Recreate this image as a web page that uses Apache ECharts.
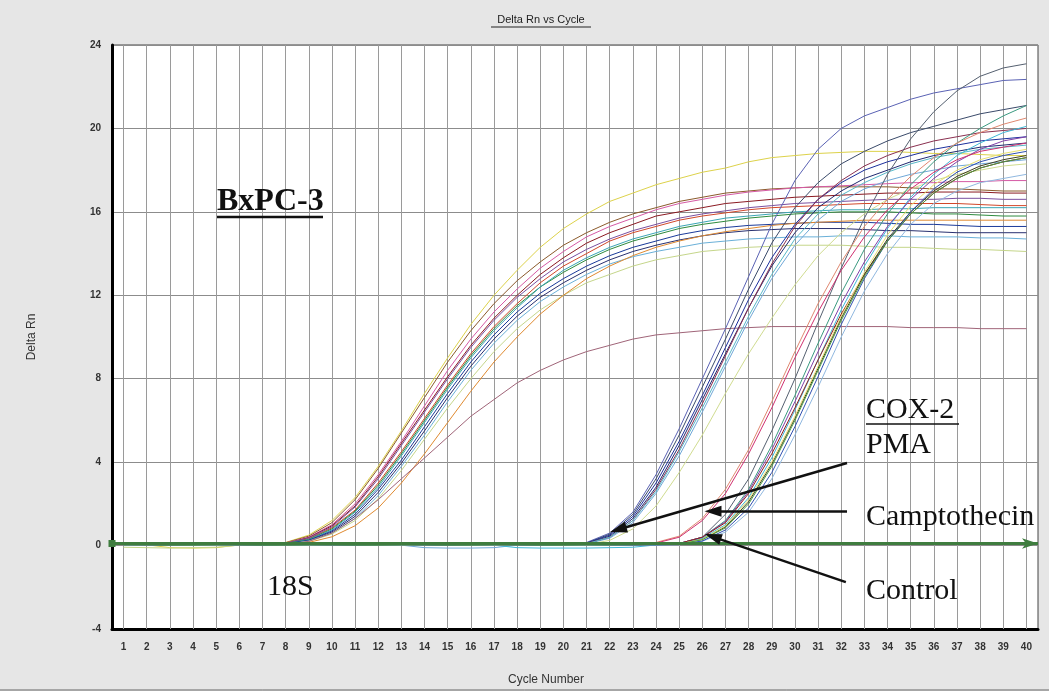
<!DOCTYPE html>
<html>
<head>
<meta charset="utf-8">
<script src="https://cdn.jsdelivr.net/npm/echarts@6/dist/echarts.min.js"></script>
<style>
html,body{margin:0;padding:0;background:#e6e6e6;}
#chart{width:1049px;height:691px;}
</style>
</head>
<body>
<div id="chart"></div>
<script>
// ---- data ----
const cycles = [1,2,3,4,5,6,7,8,9,10,11,12,13,14,15,16,17,18,19,20,21,22,23,24,25,26,27,28,29,30,31,32,33,34,35,36,37,38,39,40];
const yTicks = [-4,0,4,8,12,16,20,24];

// 18S curves
const s18_yellow = [0.05,0.04,-0.10,-0.12,-0.10,0.03,0.06,0.15,0.50,1.20,2.30,3.80,5.50,7.30,9.00,10.60,12.00,13.20,14.30,15.20,15.90,16.50,16.90,17.30,17.60,17.90,18.10,18.40,18.60,18.70,18.80,18.85,18.90,18.90,18.85,18.80,18.80,18.75,18.70,18.70];
const s18_brown = [0.03,0.05,0.04,0.02,0.05,0.06,0.07,0.14,0.45,1.10,2.20,3.70,5.40,7.10,8.80,10.30,11.60,12.70,13.60,14.40,15.00,15.50,15.90,16.20,16.50,16.70,16.90,17.00,17.10,17.15,17.20,17.20,17.20,17.20,17.15,17.10,17.10,17.05,17.00,17.00];
const s18_pink = [0.04,0.03,0.05,0.04,0.03,0.05,0.06,0.12,0.40,1.00,2.00,3.40,5.00,6.70,8.40,9.90,11.20,12.30,13.30,14.10,14.80,15.30,15.70,16.10,16.40,16.60,16.80,16.95,17.05,17.15,17.20,17.25,17.30,17.35,17.40,17.40,17.45,17.45,17.50,17.50];
const s18_darkred = [0.02,0.04,0.03,0.05,0.04,0.05,0.05,0.10,0.38,0.95,1.90,3.30,4.90,6.50,8.10,9.60,10.90,12.00,13.00,13.80,14.50,15.00,15.40,15.80,16.00,16.20,16.40,16.50,16.60,16.70,16.75,16.80,16.85,16.90,16.90,16.95,16.95,16.95,16.90,16.90];
const s18_orange = [0.05,0.06,0.04,0.03,0.05,0.04,0.06,0.10,0.33,0.85,1.70,3.00,4.50,6.10,7.70,9.20,10.50,11.60,12.60,13.40,14.00,14.60,15.00,15.30,15.60,15.80,15.95,16.10,16.20,16.25,16.30,16.35,16.40,16.40,16.40,16.40,16.40,16.35,16.30,16.30];
const s18_purple = [0.03,0.02,0.04,0.05,0.03,0.04,0.05,0.11,0.36,0.90,1.85,3.20,4.80,6.40,8.00,9.50,10.80,11.90,12.80,13.60,14.20,14.70,15.10,15.40,15.70,15.90,16.05,16.20,16.30,16.40,16.45,16.50,16.55,16.60,16.60,16.60,16.65,16.65,16.60,16.60];
const s18_green = [0.04,0.05,0.06,0.04,0.05,0.06,0.05,0.10,0.30,0.80,1.65,2.90,4.40,6.00,7.60,9.10,10.40,11.50,12.40,13.10,13.70,14.20,14.60,14.90,15.20,15.40,15.55,15.70,15.80,15.90,15.95,16.00,16.00,16.00,15.95,15.90,15.90,15.85,15.80,15.80];
const s18_teal = [0.02,0.03,0.02,0.04,0.03,0.02,0.04,0.08,0.28,0.75,1.60,2.80,4.30,5.90,7.50,9.00,10.30,11.40,12.40,13.20,13.80,14.30,14.70,15.00,15.30,15.50,15.70,15.80,15.90,16.00,16.05,16.10,16.10,16.15,16.15,16.20,16.20,16.20,16.20,16.20];
const s18_blue = [0.05,0.04,0.05,0.06,0.04,0.05,0.06,0.08,0.26,0.70,1.50,2.70,4.10,5.70,7.30,8.80,10.10,11.20,12.10,12.80,13.40,13.90,14.30,14.60,14.90,15.10,15.25,15.35,15.40,15.45,15.50,15.50,15.50,15.45,15.40,15.40,15.35,15.30,15.30,15.30];
const s18_navy = [0.03,0.04,0.03,0.02,0.04,0.03,0.04,0.07,0.24,0.65,1.40,2.55,3.95,5.50,7.10,8.60,9.90,11.00,11.90,12.60,13.20,13.70,14.10,14.40,14.65,14.85,15.00,15.10,15.15,15.20,15.20,15.20,15.15,15.10,15.10,15.05,15.00,15.00,15.00,15.00];
const s18_lightblue = [0.04,0.03,0.05,0.04,0.02,0.03,0.05,0.06,0.22,0.60,1.30,2.40,3.80,5.30,6.90,8.40,9.70,10.80,11.70,12.40,13.00,13.50,13.85,14.10,14.30,14.50,14.60,14.70,14.75,14.80,14.80,14.85,14.85,14.85,14.80,14.80,14.80,14.75,14.75,14.70];
const s18_yellowgreen = [-0.08,-0.10,-0.12,-0.10,-0.08,0.02,0.04,0.05,0.20,0.55,1.20,2.25,3.60,5.10,6.60,8.00,9.30,10.40,11.30,12.00,12.60,13.00,13.40,13.70,13.90,14.10,14.20,14.30,14.35,14.40,14.40,14.40,14.35,14.30,14.30,14.25,14.20,14.20,14.15,14.10];
const s18_late = [0.02,0.03,0.04,0.03,0.02,0.04,0.03,0.04,0.15,0.42,0.95,1.80,3.00,4.40,5.90,7.40,8.80,10.00,11.10,12.00,12.80,13.40,13.90,14.30,14.60,14.85,15.05,15.20,15.35,15.45,15.50,15.55,15.60,15.60,15.60,15.60,15.60,15.60,15.60,15.60];
const s18_outlier = [0.02,0.03,0.02,0.03,0.02,0.03,0.03,0.05,0.20,0.60,1.30,2.20,3.20,4.20,5.20,6.20,7.00,7.80,8.40,8.90,9.30,9.60,9.90,10.10,10.20,10.30,10.40,10.45,10.50,10.50,10.50,10.50,10.50,10.50,10.45,10.45,10.45,10.40,10.40,10.40];

// COX-2, PMA-treated
const pma1 = [0.03,0.02,0.04,0.03,0.05,0.04,0.03,0.02,0.04,0.05,0.03,0.04,0.02,0.03,0.05,0.04,0.03,0.05,0.06,0.08,0.15,0.60,1.60,3.40,5.60,8.00,10.40,12.90,15.40,17.50,19.00,20.00,20.60,21.00,21.40,21.70,21.90,22.10,22.30,22.35];
const pma2 = [0.02,0.03,0.02,0.04,0.03,0.02,0.04,0.03,0.02,0.03,0.04,0.02,0.03,0.04,0.02,0.03,0.04,0.05,0.05,0.07,0.12,0.55,1.50,3.20,5.30,7.60,9.90,12.30,14.50,16.20,17.40,18.30,18.90,19.40,19.80,20.10,20.40,20.70,20.90,21.10];
const pma3 = [0.04,0.03,0.05,0.04,0.03,0.05,0.04,0.03,0.05,0.04,0.03,0.05,0.04,0.03,0.04,0.05,0.04,0.05,0.06,0.07,0.12,0.50,1.40,3.00,5.00,7.20,9.50,11.80,13.80,15.40,16.60,17.40,18.00,18.40,18.70,19.00,19.20,19.40,19.50,19.60];
const pma4 = [0.03,0.04,0.03,0.02,0.03,0.04,0.03,0.02,0.03,0.04,0.03,0.02,0.03,0.04,0.03,0.02,0.04,0.04,0.05,0.06,0.10,0.45,1.30,2.80,4.80,7.00,9.20,11.40,13.40,15.00,16.20,17.00,17.60,18.00,18.40,18.70,18.90,19.10,19.20,19.30];
const pma5 = [0.02,0.02,0.03,0.02,0.02,0.03,0.02,0.02,0.03,0.02,0.02,0.03,0.02,-0.10,-0.12,-0.12,-0.10,0.02,0.04,0.05,0.08,0.35,1.10,2.50,4.30,6.40,8.60,10.80,12.80,14.40,15.60,16.50,17.10,17.50,17.80,18.00,18.20,18.30,18.40,18.50];
const pma6 = [0.03,0.03,0.04,0.03,0.03,0.04,0.03,0.03,0.04,0.03,0.03,0.04,0.03,0.03,0.04,0.03,0.04,0.04,0.05,0.06,0.10,0.40,1.20,2.70,4.60,6.80,9.10,11.40,13.50,15.30,16.60,17.50,18.20,18.70,19.10,19.40,19.60,19.80,19.90,20.00];
const pma7 = [0.02,0.03,0.02,0.03,0.02,0.03,0.02,0.03,0.02,0.03,0.02,0.03,0.02,0.03,0.02,0.03,0.02,0.03,0.03,0.04,0.05,0.25,0.80,1.90,3.50,5.30,7.30,9.20,10.90,12.50,13.90,15.00,15.90,16.60,17.10,17.50,17.80,18.00,18.20,18.30];
const pma8 = [0.04,0.03,0.04,0.03,0.04,0.03,0.04,0.03,0.04,0.03,0.04,0.03,0.04,0.03,0.04,0.03,0.04,0.04,0.05,0.06,0.09,0.40,1.20,2.60,4.50,6.60,8.80,11.00,13.00,14.70,15.90,16.80,17.40,17.90,18.30,18.60,18.80,19.00,19.10,19.20];

// COX-2, Camptothecin-treated and Control
const cpt1 = [0.03,0.02,0.03,0.04,0.03,0.02,0.03,0.04,0.03,0.02,0.03,0.04,0.03,0.02,0.03,0.04,0.03,0.02,0.03,0.04,0.03,0.04,0.05,0.06,0.10,0.40,1.50,3.20,5.50,8.00,10.70,13.30,15.70,17.80,19.50,20.80,21.80,22.50,22.90,23.10];
const cpt2 = [0.02,0.03,0.02,0.03,0.02,0.03,0.02,0.03,0.02,0.03,0.02,0.03,0.02,0.03,0.02,0.03,0.02,0.03,0.02,0.03,0.02,0.03,0.04,0.05,0.10,0.40,1.20,2.70,4.80,7.20,9.70,12.10,14.20,15.90,17.30,18.40,19.30,20.00,20.60,21.10];
const cpt3 = [0.04,0.03,0.04,0.03,0.04,0.03,0.04,0.03,0.04,0.03,0.04,0.03,0.04,0.03,0.04,0.03,0.04,0.03,0.04,0.03,0.04,0.05,0.07,0.15,0.45,1.30,2.70,4.60,6.90,9.30,11.60,13.60,15.30,16.60,17.70,18.60,19.30,19.80,20.20,20.50];
const cpt4 = [0.02,0.02,0.03,0.02,0.02,0.03,0.02,0.02,0.03,0.02,0.02,0.03,0.02,0.02,0.03,0.02,0.02,-0.10,-0.12,-0.12,-0.12,-0.10,-0.08,0.03,0.08,0.35,1.00,2.30,4.20,6.50,8.90,11.30,13.40,15.20,16.70,17.80,18.70,19.30,19.80,20.10];
const cpt5 = [0.03,0.04,0.03,0.04,0.03,0.04,0.03,0.04,0.03,0.04,0.03,0.04,0.03,0.04,0.03,0.04,0.03,0.04,0.03,0.04,0.03,0.04,0.05,0.06,0.10,0.40,1.15,2.60,4.60,6.90,9.30,11.60,13.60,15.30,16.60,17.60,18.40,19.00,19.40,19.60];
const cpt6 = [0.03,0.02,0.03,0.02,0.03,0.02,0.03,0.02,0.03,0.02,0.03,0.02,0.03,0.02,0.03,0.02,0.03,0.02,0.03,0.02,0.03,0.04,0.06,0.12,0.40,1.20,2.50,4.40,6.60,9.00,11.20,13.20,14.80,16.10,17.10,17.90,18.50,18.90,19.10,19.30];
const cpt7 = [0.04,0.04,0.03,0.04,0.04,0.03,0.04,0.04,0.03,0.04,0.04,0.03,0.04,0.04,0.03,0.04,0.04,0.03,0.04,0.04,0.03,0.04,0.05,0.06,0.10,0.40,1.10,2.50,4.40,6.60,8.90,11.10,13.00,14.60,15.90,16.90,17.60,18.10,18.40,18.60];
const cpt8 = [0.02,0.02,0.02,0.03,0.03,0.03,0.02,0.02,0.02,0.03,0.03,0.03,0.02,0.02,0.02,0.03,0.03,0.03,0.02,0.02,0.02,0.03,0.03,0.04,0.06,0.30,0.90,2.10,3.90,6.10,8.50,10.90,13.00,14.70,16.00,17.00,17.70,18.20,18.50,18.70];
const cpt9 = [0.03,0.03,0.03,0.03,0.03,0.03,0.03,0.03,0.03,0.03,0.03,0.03,0.03,0.03,0.03,0.03,0.03,0.03,0.03,0.03,0.03,0.03,0.04,0.05,0.08,0.30,0.95,2.20,4.00,6.20,8.60,11.00,13.10,14.90,16.30,17.30,18.00,18.50,18.80,19.00];
const ctl1 = [0.02,0.03,0.04,0.03,0.02,0.03,0.04,0.03,0.02,0.03,0.04,0.03,0.02,0.03,0.04,0.03,0.02,0.03,0.04,0.03,0.02,0.03,0.03,0.03,0.04,0.20,0.65,1.60,3.20,5.30,7.60,10.00,12.20,14.00,15.40,16.40,17.00,17.40,17.60,17.80];
const ctl2 = [0.04,0.03,0.02,0.03,0.04,0.03,0.02,0.03,0.04,0.03,0.02,0.03,0.04,0.03,0.02,0.03,0.04,0.03,0.02,0.03,0.04,0.03,0.03,0.04,0.05,0.22,0.75,1.80,3.50,5.70,8.10,10.60,12.80,14.60,16.00,17.10,17.90,18.40,18.70,18.90];
const ctl3 = [0.03,0.03,0.02,0.02,0.03,0.03,0.02,0.02,0.03,0.03,0.02,0.02,0.03,0.03,0.02,0.02,0.03,0.03,0.02,0.02,0.03,0.03,0.04,0.05,0.07,0.28,0.85,2.00,3.80,6.00,8.40,10.80,12.90,14.60,15.90,16.90,17.60,18.10,18.40,18.60];

const curves = [
  ['18S a', s18_yellow, '#ddd24a'],
  ['18S b', s18_brown, '#8b5a2b'],
  ['18S c', s18_pink, '#d55aa5'],
  ['18S d', s18_darkred, '#8b1a22'],
  ['18S e', s18_orange, '#d2482a'],
  ['18S f', s18_purple, '#7a4fa0'],
  ['18S g', s18_green, '#2e8b3e'],
  ['18S h', s18_teal, '#3aa5b5'],
  ['18S i', s18_blue, '#1a3a9a'],
  ['18S j', s18_navy, '#283070'],
  ['18S k', s18_lightblue, '#6ab0d8'],
  ['18S l', s18_yellowgreen, '#c5d68a'],
  ['18S m', s18_late, '#e08a30'],
  ['18S n', s18_outlier, '#a06478'],
  ['PMA 1', pma1, '#5a62b4'],
  ['PMA 2', pma2, '#3a4a6a'],
  ['PMA 3', pma3, '#1c2f9c'],
  ['PMA 4', pma4, '#202a70'],
  ['PMA 5', pma5, '#70a8d8'],
  ['PMA 6', pma6, '#8a3050'],
  ['PMA 7', pma7, '#d0dc90'],
  ['PMA 8', pma8, '#58b8c8'],
  ['CPT 1', cpt1, '#556070'],
  ['CPT 2', cpt2, '#3a9a80'],
  ['CPT 3', cpt3, '#e08870'],
  ['CPT 4', cpt4, '#40b8d8'],
  ['CPT 5', cpt5, '#8040a8'],
  ['CPT 6', cpt6, '#d03070'],
  ['CPT 7', cpt7, '#902020'],
  ['CPT 8', cpt8, '#404020'],
  ['CPT 9', cpt9, '#e8e070'],
  ['Control 1', ctl1, '#90b8e0'],
  ['Control 2', ctl2, '#3050b0'],
  ['Control 3', ctl3, '#4a9a40']
];

const threshold = 0.1;
// arrow annotations: [from, arrowhead centre] in (cycle, Delta Rn)
const arrowPMA = [[32.25, 3.96], [22.37, 0.77]];
const arrowCPT = [[32.25, 1.65], [26.46, 1.65]];
const arrowCTL = [[32.2, -1.75], [26.46, 0.42]];

// ---- chart ----
const chart = echarts.init(document.getElementById('chart'), null, {renderer: 'canvas'});

const series = curves.map(c => ({
  name: c[0],
  type: 'line',
  data: cycles.map((x, i) => [x, c[1][i]]),
  showSymbol: false,
  smooth: false,
  z: 3,
  silent: true,
  lineStyle: {width: 1, color: c[2]},
  itemStyle: {color: c[2]}
}));

// vertical grid lines at every cycle
series.unshift({
  name: 'vgrid',
  type: 'line',
  data: [[cycles[0], 0]],
  showSymbol: false,
  lineStyle: {opacity: 0},
  silent: true,
  z: 1,
  markLine: {
    silent: true,
    z: 1,
    symbol: ['none', 'none'],
    label: {show: false},
    lineStyle: {color: '#9a9a9a', width: 1, type: 'solid'},
    data: cycles.map(c => ({xAxis: c}))
  }
});

// threshold line + arrows
series.push({
  name: 'annot',
  type: 'line',
  data: [[cycles[0], 0]],
  showSymbol: false,
  lineStyle: {opacity: 0},
  silent: true,
  z: 6,
  markLine: {
    silent: true,
    z: 6,
    label: {show: false},
    data: [
      {yAxis: threshold, symbol: ['arrow', 'arrow'], symbolSize: 7,
       lineStyle: {color: '#3f7d3f', width: 3, type: 'solid'}},
      [{coord: arrowPMA[0], symbol: 'none'}, {coord: arrowPMA[1], symbol: 'triangle', symbolSize: [11, 17]}],
      [{coord: arrowCPT[0], symbol: 'none'}, {coord: arrowCPT[1], symbol: 'triangle', symbolSize: [11, 17]}],
      [{coord: arrowCTL[0], symbol: 'none'}, {coord: arrowCTL[1], symbol: 'triangle', symbolSize: [11, 17]}]
    ],
    lineStyle: {color: '#111', width: 2.5, type: 'solid'}
  }
});

const serif = '"Liberation Serif", "Times New Roman", serif';
const sans = '"Liberation Sans", Arial, sans-serif';

chart.setOption({
  animation: false,
  backgroundColor: '#e6e6e6',
  grid: {left: 112, top: 45, right: 11, bottom: 62, show: true, backgroundColor: '#ffffff', borderColor: '#444', borderWidth: 1},
  xAxis: {
    type: 'value', min: 0.5, max: 40.5,
    axisLine: {show: true, onZero: false, lineStyle: {color: '#000', width: 3}},
    axisTick: {show: false},
    splitLine: {show: false},
    axisLabel: {customValues: cycles, color: '#333', fontSize: 10, fontWeight: 'bold', fontFamily: sans, margin: 13}
  },
  yAxis: {
    type: 'value', min: yTicks[0], max: yTicks[yTicks.length - 1], interval: 4,
    name: 'Delta Rn', nameLocation: 'middle', nameGap: 74,
    nameTextStyle: {color: '#333', fontSize: 12, fontFamily: sans},
    axisLine: {show: true, onZero: false, lineStyle: {color: '#000', width: 3}},
    axisTick: {show: false},
    splitLine: {show: true, lineStyle: {color: '#8c8c8c', width: 1}},
    axisLabel: {color: '#333', fontSize: 10, fontWeight: 'bold', fontFamily: sans, margin: 11}
  },
  series: series,
  graphic: [
    {type: 'text', x: 541, y: 20, z: 10, style: {text: 'Delta Rn vs Cycle', font: '11px ' + sans, fill: '#222', textAlign: 'center', textVerticalAlign: 'middle'}},
    {type: 'line', z: 10, shape: {x1: 491, y1: 27, x2: 591, y2: 27}, style: {stroke: '#222', lineWidth: 1}},
    {type: 'text', x: 546, y: 680, z: 10, style: {text: 'Cycle Number', font: '12px ' + sans, fill: '#333', textAlign: 'center', textVerticalAlign: 'middle'}},
    {type: 'text', x: 217, y: 202, z: 10, style: {text: 'BxPC-3', font: 'bold 32px ' + serif, fill: '#111', textVerticalAlign: 'middle'}},
    {type: 'line', z: 10, shape: {x1: 217, y1: 217, x2: 323, y2: 217}, style: {stroke: '#111', lineWidth: 2.5}},
    {type: 'text', x: 267, y: 587, z: 10, style: {text: '18S', font: '30px ' + serif, fill: '#111', textVerticalAlign: 'middle'}},
    {type: 'text', x: 866, y: 410, z: 10, style: {text: 'COX-2', font: '30px ' + serif, fill: '#111', textVerticalAlign: 'middle'}},
    {type: 'line', z: 10, shape: {x1: 866, y1: 424, x2: 959, y2: 424}, style: {stroke: '#111', lineWidth: 1.5}},
    {type: 'text', x: 866, y: 445, z: 10, style: {text: 'PMA', font: '30px ' + serif, fill: '#111', textVerticalAlign: 'middle'}},
    {type: 'text', x: 866, y: 517, z: 10, style: {text: 'Camptothecin', font: '30px ' + serif, fill: '#111', textVerticalAlign: 'middle'}},
    {type: 'text', x: 866, y: 591, z: 10, style: {text: 'Control', font: '30px ' + serif, fill: '#111', textVerticalAlign: 'middle'}},
    {type: 'line', z: 10, shape: {x1: 0, y1: 690, x2: 1049, y2: 690}, style: {stroke: '#666', lineWidth: 1}}
  ]
});
</script>
</body>
</html>
